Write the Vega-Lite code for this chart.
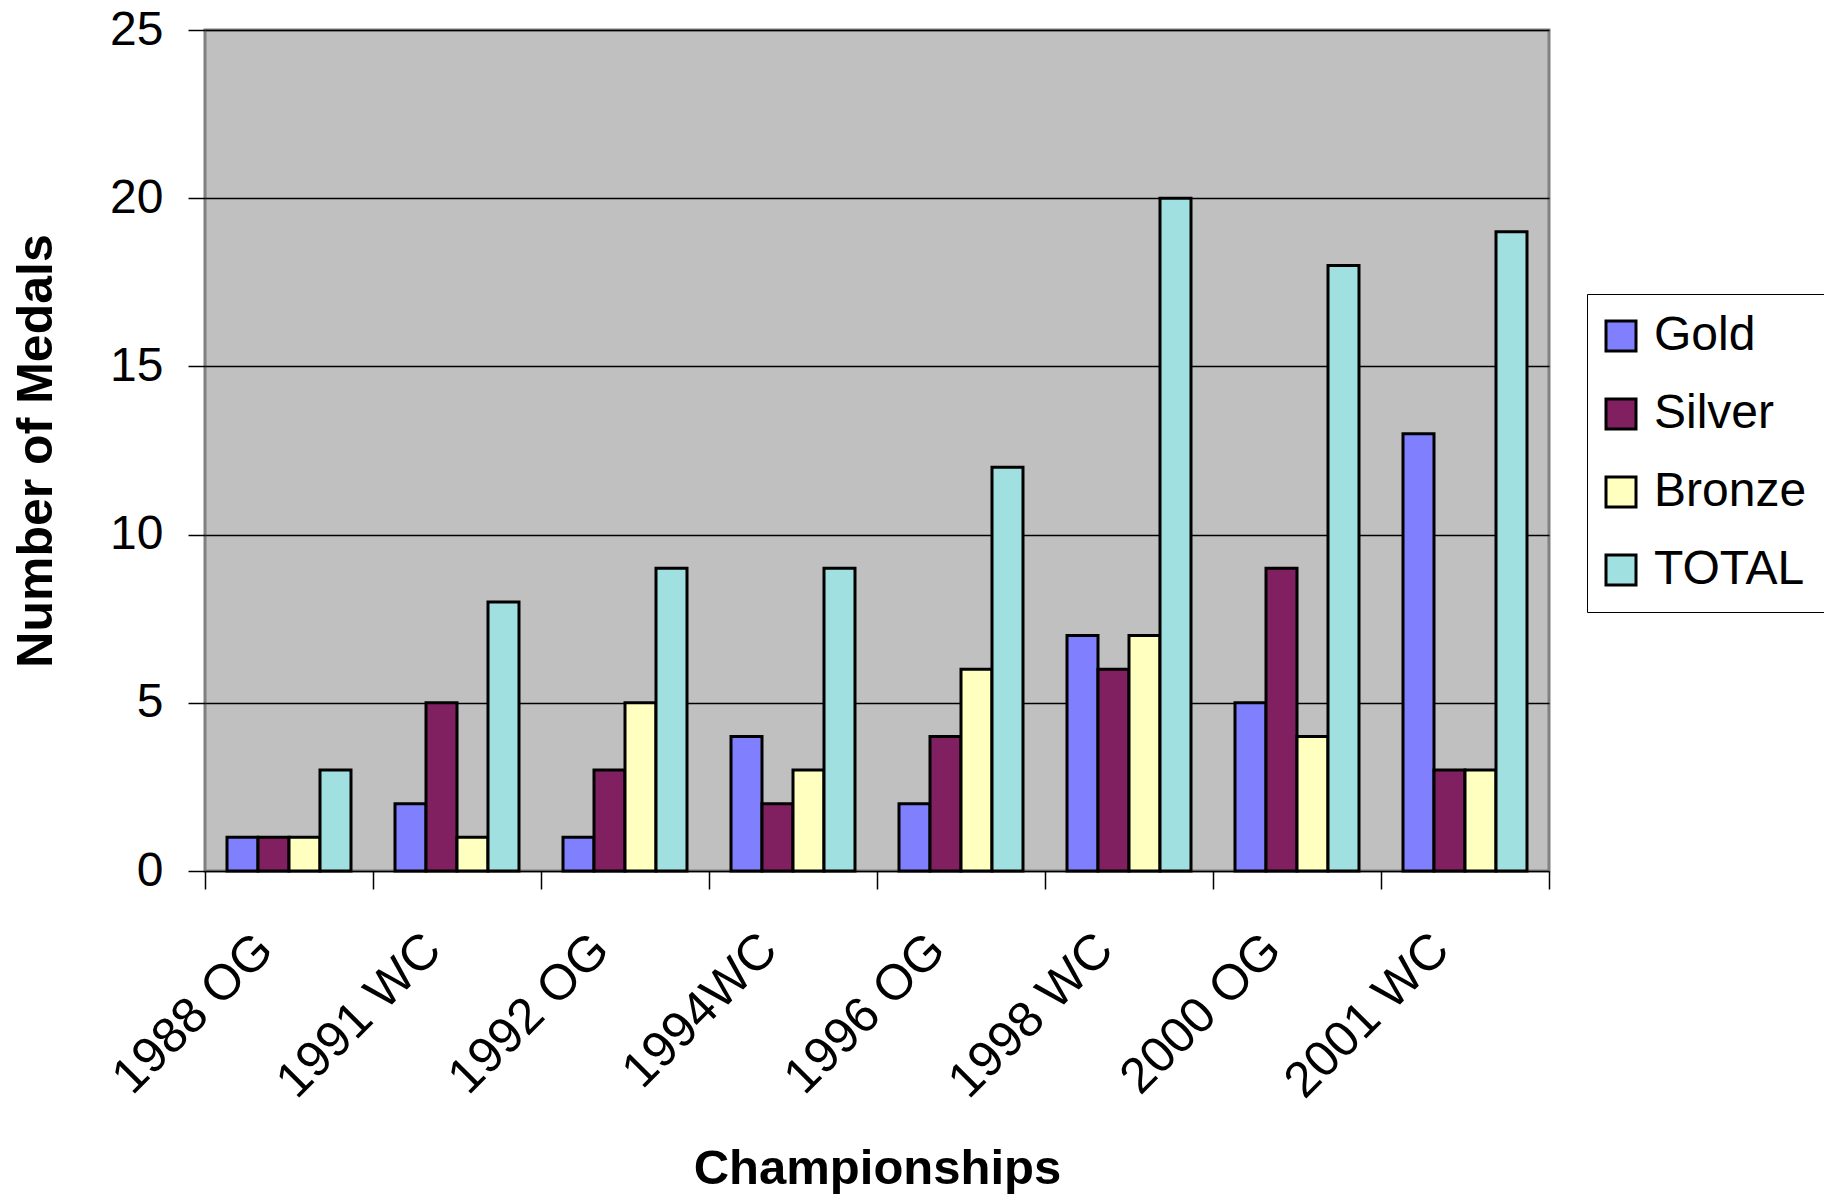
{
  "$schema": "https://vega.github.io/schema/vega-lite/v6.json",
  "autosize": {"type": "none"},
  "width": 1344,
  "height": 841,
  "padding": {"left": 205, "top": 30, "right": 275, "bottom": 325},
  "background": "#FFFFFF",
  "config": {
    "font": "Liberation Sans",
    "view": {"fill": "#C0C0C0", "stroke": "#808080", "strokeWidth": 3},
    "axis": {"labelFont": "Liberation Sans", "titleFont": "Liberation Sans", "labelColor": "#000", "titleColor": "#000"}
  },
  "data": {
    "values": [
      {"event": "1988 OG", "medal": "Gold", "count": 1},
      {"event": "1988 OG", "medal": "Silver", "count": 1},
      {"event": "1988 OG", "medal": "Bronze", "count": 1},
      {"event": "1988 OG", "medal": "TOTAL", "count": 3},
      {"event": "1991 WC", "medal": "Gold", "count": 2},
      {"event": "1991 WC", "medal": "Silver", "count": 5},
      {"event": "1991 WC", "medal": "Bronze", "count": 1},
      {"event": "1991 WC", "medal": "TOTAL", "count": 8},
      {"event": "1992 OG", "medal": "Gold", "count": 1},
      {"event": "1992 OG", "medal": "Silver", "count": 3},
      {"event": "1992 OG", "medal": "Bronze", "count": 5},
      {"event": "1992 OG", "medal": "TOTAL", "count": 9},
      {"event": "1994WC", "medal": "Gold", "count": 4},
      {"event": "1994WC", "medal": "Silver", "count": 2},
      {"event": "1994WC", "medal": "Bronze", "count": 3},
      {"event": "1994WC", "medal": "TOTAL", "count": 9},
      {"event": "1996 OG", "medal": "Gold", "count": 2},
      {"event": "1996 OG", "medal": "Silver", "count": 4},
      {"event": "1996 OG", "medal": "Bronze", "count": 6},
      {"event": "1996 OG", "medal": "TOTAL", "count": 12},
      {"event": "1998 WC", "medal": "Gold", "count": 7},
      {"event": "1998 WC", "medal": "Silver", "count": 6},
      {"event": "1998 WC", "medal": "Bronze", "count": 7},
      {"event": "1998 WC", "medal": "TOTAL", "count": 20},
      {"event": "2000 OG", "medal": "Gold", "count": 5},
      {"event": "2000 OG", "medal": "Silver", "count": 9},
      {"event": "2000 OG", "medal": "Bronze", "count": 4},
      {"event": "2000 OG", "medal": "TOTAL", "count": 18},
      {"event": "2001 WC", "medal": "Gold", "count": 13},
      {"event": "2001 WC", "medal": "Silver", "count": 3},
      {"event": "2001 WC", "medal": "Bronze", "count": 3},
      {"event": "2001 WC", "medal": "TOTAL", "count": 19}
    ]
  },
  "mark": {"type": "bar", "stroke": "#000000", "strokeWidth": 3},
  "encoding": {
    "x": {
      "field": "event",
      "type": "nominal",
      "sort": null,
      "scale": {"paddingInner": 0, "paddingOuter": 0},
      "axis": {
        "title": "Championships",
        "titleFontSize": 49,
        "titleFontWeight": "bold",
        "titleY": 312,
        "titleBaseline": "alphabetic",
        "domain": false,
        "tickBand": "extent",
        "tickSize": 18,
        "tickColor": "#000",
        "tickWidth": 1.5,
        "labelFontSize": 50,
        "labelAngle": -45,
        "labelAlign": "right",
        "labelBaseline": "top",
        "labelPadding": 35,
        "labelOffset": -42,
        "labelLimit": 600,
        "grid": false
      }
    },
    "xOffset": {
      "field": "medal",
      "type": "nominal",
      "sort": ["Gold", "Silver", "Bronze", "TOTAL"],
      "scale": {"paddingInner": 0, "paddingOuter": 0.71}
    },
    "y": {
      "field": "count",
      "type": "quantitative",
      "scale": {"domain": [0, 25], "nice": false},
      "axis": {
        "title": "Number of Medals",
        "titleFontSize": 50,
        "titleFontWeight": "bold",
        "titleAngle": -90,
        "titleX": -154,
        "titleAlign": "center",
        "titleBaseline": "alphabetic",
        "domain": false,
        "values": [0, 5, 10, 15, 20, 25],
        "tickSize": 17,
        "tickColor": "#000",
        "tickWidth": 1.5,
        "labelFontSize": 48,
        "labelPadding": 25,
        "grid": true,
        "gridColor": "#000",
        "gridWidth": 1.5
      }
    },
    "color": {
      "field": "medal",
      "type": "nominal",
      "sort": ["Gold", "Silver", "Bronze", "TOTAL"],
      "scale": {
        "domain": ["Gold", "Silver", "Bronze", "TOTAL"],
        "range": ["#8080FF", "#802060", "#FFFFC0", "#A0E0E0"]
      },
      "legend": {
        "title": null,
        "orient": "none",
        "legendX": 1382,
        "legendY": 264,
        "fillColor": "#FFFFFF",
        "strokeColor": "#000000",
        "padding": 18,
        "symbolType": "square",
        "symbolSize": 900,
        "symbolOffset": -8,
        "symbolStrokeColor": "#000000",
        "symbolStrokeWidth": 3,
        "symbolOpacity": 1,
        "labelFontSize": 48,
        "labelFont": "Liberation Sans",
        "labelColor": "#000",
        "labelOffset": 9,
        "rowPadding": 30
      }
    }
  }
}
